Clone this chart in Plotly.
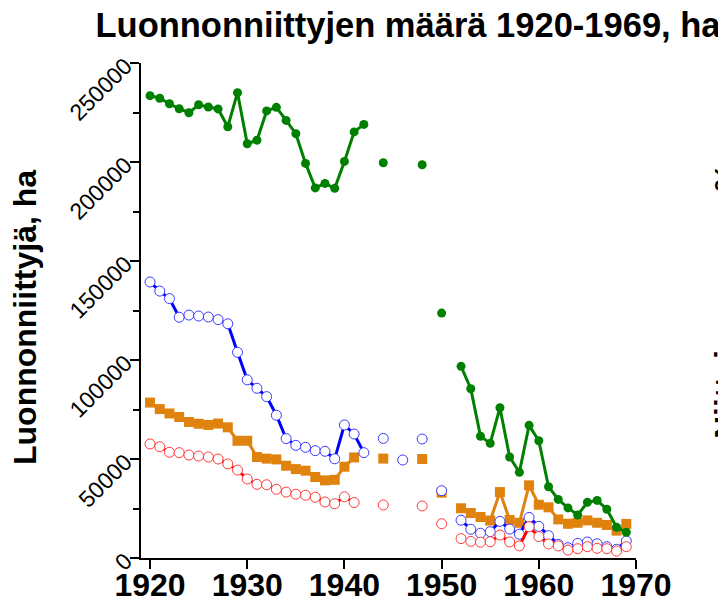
import plotly.graph_objects as go

# --- Data ---
YEARS = list(range(1920, 1970))

# green, filled circles
green_ha = [233500, 232200, 229400, 226900, 224900, 228900, 227800, 226800, 217800, 235000,
            209200, 211000, 225800, 227600, 221000, 214300, 199300, 186900, 189200, 186700,
            200300, 215200, 219000, None, 199600, None, None, None, 198600, None,
            123700, None, 96800, 85500, 61500, 57900, 75900, 51000, 43300, 67000,
            59200, 36000, 29600, 25300, 21700, 28100, 29100, 24600, 15500, 13000]

# blue, open circles
blue_ha = [139400, 134800, 131000, 121600, 122700, 122200, 121700, 120400, 118300, 103900,
           90000, 85700, 81500, 72100, 60300, 56900, 55900, 54200, 53900, 50100,
           67200, 62600, 53200, None, 60400, None, 49500, None, 60100, None,
           34000, None, 19100, 14500, 12500, 13300, 18500, 14600, 12000, 20500,
           16000, 11300, 6900, 5200, 7400, 8100, 7200, 5700, 4400, 8600]

# orange, filled squares
orange_ha = [78500, 75200, 73000, 71200, 68700, 67800, 67200, 67900, 66000, 59200,
             59200, 51000, 50200, 49800, 46600, 44900, 44100, 40900, 39200, 39500,
             46100, 50800, None, None, 50200, None, None, None, 50000, None,
             33000, None, 25100, 22700, 20700, 18900, 33300, 19200, 17800, 36700,
             26900, 25600, 19500, 17300, 17800, 19000, 17800, 16700, 13800, 17200]

# red, open circles
red_ha = [57600, 56200, 53400, 53200, 52000, 51500, 51000, 50000, 47500, 44400,
          39900, 37200, 37000, 34700, 33300, 32200, 31700, 30700, 28300, 27400,
          30900, 28000, None, None, 26800, None, None, None, 26300, None,
          17300, None, 9800, 8400, 8000, 8200, 11600, 8100, 6100, 15800,
          10800, 7100, 6100, 4000, 4700, 5700, 4900, 4700, 3500, 5700]

FONT = "Arial, Liberation Sans, sans-serif"

# the page has an 8px body margin, so the figure is drawn 8px smaller
W, H, PAGE = 726, 601, 8

fig = go.Figure()

# drawing order: orange, blue, red, green on top
fig.add_trace(go.Scatter(
    x=YEARS, y=orange_ha, mode="lines+markers", connectgaps=False,
    line=dict(color="#e0820e", width=3),
    marker=dict(symbol="square", size=10, color="#e0820e"),
    cliponaxis=False, showlegend=False))

fig.add_trace(go.Scatter(
    x=YEARS, y=blue_ha, mode="lines+markers", connectgaps=False,
    line=dict(color="#0000ff", width=3),
    marker=dict(symbol="circle", size=10, color="white",
                line=dict(color="#3a3aff", width=1)),
    cliponaxis=False, showlegend=False))

fig.add_trace(go.Scatter(
    x=YEARS, y=red_ha, mode="lines+markers", connectgaps=False,
    line=dict(color="#ff0000", width=3),
    marker=dict(symbol="circle", size=10, color="white",
                line=dict(color="#ff3a3a", width=1)),
    cliponaxis=False, showlegend=False))

fig.add_trace(go.Scatter(
    x=YEARS, y=green_ha, mode="lines+markers", connectgaps=False,
    line=dict(color="#008000", width=3),
    marker=dict(symbol="circle", size=9, color="#008000"),
    cliponaxis=False, showlegend=False))

# --- Layout ---
fig.update_layout(
    width=W - PAGE, height=H - PAGE,
    margin=dict(l=141 - PAGE, r=90, t=63 - PAGE, b=43),
    plot_bgcolor="white", paper_bgcolor="white",
    font=dict(family=FONT, color="black"),
    title=dict(text="Luonnonniittyjen määrä 1920-1969, ha",
               font=dict(size=34.5, weight="bold", family=FONT, color="black"),
               x=(408 - PAGE) / (W - PAGE), xanchor="center",
               y=1 - (25 - PAGE) / (H - PAGE), yanchor="middle",
               automargin=False),
    xaxis=dict(range=[1919.07, 1970], tick0=1920, dtick=10, automargin=False,
               showline=True, linecolor="black", linewidth=2,
               ticks="outside", ticklen=9, tickwidth=2, tickcolor="black",
               ticklabelstandoff=-11,
               showgrid=False, zeroline=False,
               tickfont=dict(size=32, weight="bold", family=FONT)),
    yaxis=dict(range=[0, 250000], tick0=0, dtick=50000, automargin=False,
               showline=True, linecolor="black", linewidth=2,
               ticks="outside", ticklen=9, tickwidth=2, tickcolor="black",
               minor=dict(dtick=25000, ticks="outside", ticklen=6, tickwidth=2,
                          tickcolor="black", showgrid=False),
               showgrid=False, zeroline=False, tickangle=-45,
               tickformat="d",
               tickfont=dict(size=23, family=FONT)),
)

# y axis title
fig.add_annotation(
    text="Luonnonniittyjä, ha", textangle=-90, showarrow=False,
    xref="paper", yref="paper", x=(25 - 141) / 495, y=(558 - 318) / 495,
    xanchor="center", yanchor="middle",
    font=dict(size=32, weight="bold", family=FONT, color="black"))

# right axis title, partly cut off by the edge of the picture
fig.add_annotation(
    text="Niittyjen osuus, %", textangle=-90, showarrow=False,
    xref="paper", yref="paper", x=(706 - 141) / 495, y=(558 - 301) / 495,
    xanchor="left", yanchor="middle",
    font=dict(size=32, weight="bold", family=FONT, color="black"))

fig.write_html("out.html")
